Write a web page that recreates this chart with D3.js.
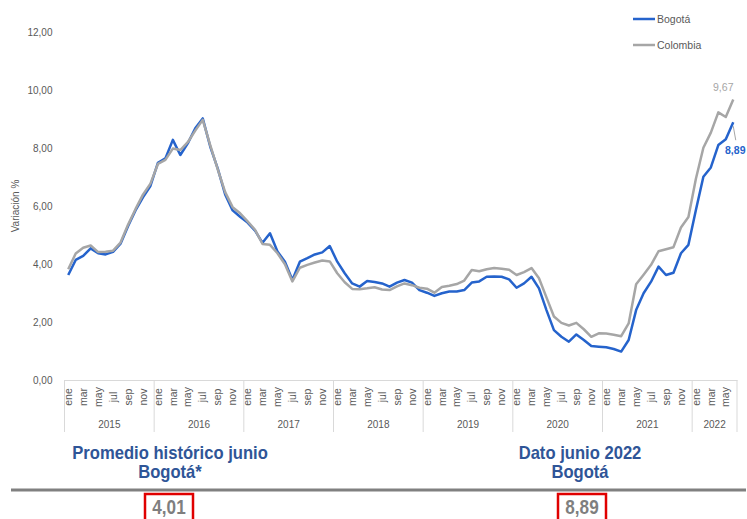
<!DOCTYPE html>
<html>
<head>
<meta charset="utf-8">
<script src="https://cdn.jsdelivr.net/npm/d3@7"></script>
<style>
  body { margin: 0; background: #fff; }
  svg { display: block; font-family: "Liberation Sans", Arial, sans-serif; }
  .axis text { fill: #595959; }
</style>
</head>
<body>
<div id="vis"></div>
<script>
// frame constants
const FRAME_WIDTH = 747;
const FRAME_HEIGHT = 519;
const PLOT = {left: 64.5, right: 737, top: 32, bottom: 380};

// data (annual variation %, ene 2015 - jun 2022)
const YEARS = ["2015", "2016", "2017", "2018", "2019", "2020", "2021", "2022"];
const MONTHS = ["ene", "feb", "mar", "abr", "may", "jun", "jul", "ago", "sep", "oct", "nov", "dic"];
const SERIES_NAMES = ["Bogotá", "Colombia"];

const BOGOTA = [
  3.62, 4.14, 4.28, 4.54, 4.37, 4.33, 4.42, 4.70, 5.30, 5.85, 6.30, 6.69,
  7.49, 7.64, 8.28, 7.76, 8.16, 8.68, 9.02, 8.05, 7.30, 6.40, 5.85, 5.63,
  5.43, 5.15, 4.73, 5.06, 4.43, 4.08, 3.45, 4.08, 4.20, 4.33, 4.40, 4.62,
  4.08, 3.68, 3.33, 3.22, 3.41, 3.38, 3.33, 3.22, 3.36, 3.45, 3.36, 3.10,
  3.01, 2.90, 2.99, 3.05, 3.05, 3.10, 3.36, 3.40, 3.56, 3.57, 3.56, 3.47,
  3.18, 3.33, 3.56, 3.16, 2.41, 1.72, 1.49, 1.32, 1.57, 1.38, 1.17, 1.15,
  1.13, 1.07, 0.98, 1.38, 2.41, 2.99, 3.39, 3.91, 3.62, 3.70, 4.37, 4.66,
  5.86, 7.01, 7.33, 8.10, 8.30, 8.89
];

const COLOMBIA = [
  3.82, 4.36, 4.56, 4.64, 4.41, 4.42, 4.46, 4.74, 5.35, 5.89, 6.39, 6.77,
  7.45, 7.59, 7.98, 7.93, 8.20, 8.60, 8.97, 8.10, 7.27, 6.48, 5.96, 5.75,
  5.47, 5.18, 4.69, 4.66, 4.37, 3.99, 3.40, 3.87, 3.97, 4.05, 4.12, 4.09,
  3.68, 3.37, 3.14, 3.13, 3.16, 3.20, 3.12, 3.10, 3.23, 3.33, 3.27, 3.18,
  3.15, 3.01, 3.21, 3.25, 3.31, 3.43, 3.79, 3.75, 3.82, 3.86, 3.84, 3.80,
  3.62, 3.72, 3.86, 3.51, 2.85, 2.19, 1.97, 1.88, 1.97, 1.75, 1.49, 1.61,
  1.60, 1.56, 1.51, 1.95, 3.30, 3.63, 3.97, 4.44, 4.51, 4.58, 5.26, 5.62,
  6.94, 8.01, 8.53, 9.23, 9.07, 9.67
];

const Y_TICKS = [0, 2, 4, 6, 8, 10, 12];

// bottom summary figures
const HIST_LABEL = ["Promedio histórico junio", "Bogotá*"];
const HIST_VALUE = 4.01;
const LAST_LABEL = ["Dato junio 2022", "Bogotá"];
const LAST_VALUE = 8.89;

const BLUE = "#2563cc";
const GRAY = "#a6a6a6";
const fmt = (v) => v.toFixed(2).replace(".", ",");

const FRAME = d3.select("#vis")
  .append("svg")
    .attr("width", FRAME_WIDTH)
    .attr("height", FRAME_HEIGHT);

const idx = d3.range(BOGOTA.length);

// scales
const X_SCALE = d3.scaleBand()
  .domain(idx)
  .range([PLOT.left, PLOT.right]);
const Y_SCALE = d3.scaleLinear()
  .domain([0, 12])
  .range([PLOT.bottom, PLOT.top]);

const cx = (i) => X_SCALE(i) + X_SCALE.bandwidth() / 2;

// y axis
const yAxis = FRAME.append("g")
  .attr("class", "axis")
  .attr("transform", "translate(" + (PLOT.left - 4) + ",0)")
  .call(d3.axisLeft(Y_SCALE).tickValues(Y_TICKS).tickSize(0).tickPadding(8).tickFormat(fmt))
  .attr("font-size", "10px")
  .attr("font-family", null);
yAxis.select(".domain").remove();

// y axis title
FRAME.append("text")
  .attr("transform", "translate(19,206) rotate(-90)")
  .attr("text-anchor", "middle")
  .attr("font-size", "10px")
  .attr("fill", "#595959")
  .text("Variación %");

// x axis with month labels (every other month)
const xAxis = FRAME.append("g")
  .attr("class", "axis")
  .attr("transform", "translate(0," + PLOT.bottom + ")")
  .call(d3.axisBottom(X_SCALE)
    .tickValues(idx.filter((i) => i % 2 === 0))
    .tickSize(0)
    .tickFormat((i) => MONTHS[i % 12]))
  .attr("font-size", "10.5px")
  .attr("font-family", null);
xAxis.select(".domain").attr("stroke", "#d9d9d9");
xAxis.selectAll(".tick text")
  .attr("transform", "translate(0,17) rotate(-90)")
  .attr("text-anchor", "middle")
  .attr("dy", "0.35em")
  .attr("y", 0)
  .attr("x", 0);

// year groups: separators and labels
const lastIdx = idx.length - 1;
const yearStart = (k) => X_SCALE(k * 12);
const yearEnd = (k) => X_SCALE(Math.min(k * 12 + 11, lastIdx)) + X_SCALE.bandwidth();
const sepX = YEARS.map((y, k) => yearStart(k)).concat([PLOT.right]);

FRAME.append("g")
  .selectAll("line")
  .data(sepX)
  .enter()
  .append("line")
    .attr("x1", (d) => d)
    .attr("x2", (d) => d)
    .attr("y1", PLOT.bottom)
    .attr("y2", PLOT.bottom + 52)
    .attr("stroke", "#d9d9d9")
    .attr("stroke-width", 1);

FRAME.append("g")
  .selectAll("text")
  .data(YEARS)
  .enter()
  .append("text")
    .attr("x", (d, k) => (yearStart(k) + yearEnd(k)) / 2)
    .attr("y", PLOT.bottom + 48)
    .attr("text-anchor", "middle")
    .attr("font-size", "10px")
    .attr("fill", "#595959")
    .text((d) => d);

// lines (Colombia drawn last, on top)
const line = d3.line()
  .x((d, i) => cx(i))
  .y((d) => Y_SCALE(d));

FRAME.append("path")
  .datum(BOGOTA)
  .attr("d", line)
  .attr("fill", "none")
  .attr("stroke", BLUE)
  .attr("stroke-width", 2.5)
  .attr("stroke-linejoin", "round");

FRAME.append("path")
  .datum(COLOMBIA)
  .attr("d", line)
  .attr("fill", "none")
  .attr("stroke", GRAY)
  .attr("stroke-width", 2.5)
  .attr("stroke-linejoin", "round");

// end labels
FRAME.append("text")
  .attr("x", cx(lastIdx) - 10)
  .attr("y", Y_SCALE(COLOMBIA[lastIdx]) - 9)
  .attr("text-anchor", "middle")
  .attr("font-size", "10.5px")
  .attr("fill", GRAY)
  .text(fmt(COLOMBIA[lastIdx]));

FRAME.append("line")
  .attr("x1", cx(lastIdx))
  .attr("y1", Y_SCALE(BOGOTA[lastIdx]) + 4)
  .attr("x2", cx(lastIdx) + 2.5)
  .attr("y2", Y_SCALE(BOGOTA[lastIdx]) + 18)
  .attr("stroke", GRAY)
  .attr("stroke-width", 1);

FRAME.append("text")
  .attr("x", cx(lastIdx) + 2)
  .attr("y", Y_SCALE(BOGOTA[lastIdx]) + 32)
  .attr("text-anchor", "middle")
  .attr("font-size", "10.5px")
  .attr("font-weight", "bold")
  .attr("fill", BLUE)
  .text(fmt(BOGOTA[lastIdx]));

// legend
const legend = FRAME.append("g")
  .selectAll("g")
  .data(SERIES_NAMES)
  .enter()
  .append("g")
    .attr("transform", (d, i) => "translate(633," + (19 + i * 26) + ")");
legend.append("line")
  .attr("x1", 0).attr("x2", 22)
  .attr("stroke", (d, i) => i === 0 ? BLUE : GRAY)
  .attr("stroke-width", 2.5);
legend.append("text")
  .attr("x", 24)
  .attr("y", 4)
  .attr("font-size", "10.5px")
  .attr("fill", "#595959")
  .text((d) => d);

// bottom summary (text squeezed horizontally to mimic a narrow bold face)
const summary = [
  {label: HIST_LABEL, value: HIST_VALUE, x: 170, box: 169},
  {label: LAST_LABEL, value: LAST_VALUE, x: 580, box: 582}
];

summary.forEach((s) => {
  s.label.forEach((t, j) => {
    FRAME.append("text")
      .attr("transform", "translate(" + s.x + "," + (459 + j * 19) + ") scale(0.95,1)")
      .attr("text-anchor", "middle")
      .attr("font-weight", "bold")
      .attr("font-size", "17.5px")
      .attr("fill", "#2f5597")
      .text(t);
  });
  FRAME.append("rect")
    .attr("x", s.box - 24)
    .attr("y", 494)
    .attr("width", 48)
    .attr("height", 32)
    .attr("fill", "none")
    .attr("stroke", "#e00000")
    .attr("stroke-width", 2.5);
  FRAME.append("text")
    .attr("transform", "translate(" + s.box + ",514) scale(0.88,1)")
    .attr("text-anchor", "middle")
    .attr("font-weight", "bold")
    .attr("font-size", "19.5px")
    .attr("fill", "#7f7f7f")
    .text(fmt(s.value));
});

FRAME.append("line")
  .attr("x1", 11).attr("x2", 746)
  .attr("y1", 490).attr("y2", 490)
  .attr("stroke", "#808080")
  .attr("stroke-width", 3);
</script>
</body>
</html>
